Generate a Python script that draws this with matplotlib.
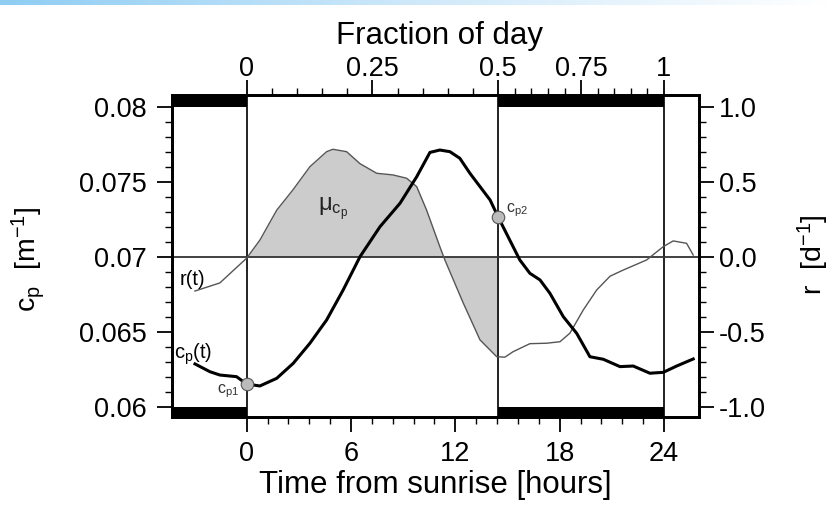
import matplotlib
matplotlib.use("Agg")
import matplotlib.pyplot as plt
import numpy as np
from matplotlib.colors import LinearSegmentedColormap

plt.rcParams['font.family'] = ['Liberation Sans', 'DejaVu Sans']
plt.rcParams['mathtext.fontset'] = 'custom'
plt.rcParams['mathtext.rm'] = 'Liberation Sans'
plt.rcParams['mathtext.it'] = 'Liberation Sans'
plt.rcParams['mathtext.default'] = 'regular'

# ---- data ----
r_t = [-2.97, -1.54, 0.0, 0.76, 1.73, 2.66, 3.64, 4.60, 4.96, 5.75, 6.52, 7.48, 8.41, 9.20,
       9.78, 10.35, 11.11, 11.40, 12.46, 13.42, 14.38, 14.85, 15.33, 16.29, 17.25, 18.02,
       18.59, 19.36, 20.13, 20.90, 21.66, 23.00, 23.96, 24.53, 25.30, 25.68]
r_val = [-0.229, -0.175, -0.01, 0.11, 0.31, 0.445, 0.60, 0.70, 0.716, 0.70, 0.62, 0.556, 0.545, 0.523,
         0.467, 0.31, 0.067, -0.022, -0.31, -0.555, -0.667, -0.67, -0.633, -0.58, -0.577, -0.567,
         -0.51, -0.355, -0.222, -0.13, -0.089, -0.022, 0.067, 0.105, 0.089, 0.011]

cp_t = [-2.97, -2.11, -1.54, -0.58, 0.0, 0.76, 1.73, 2.68, 3.64, 4.60, 5.55, 6.52, 7.67, 8.82,
        9.78, 10.54, 11.11, 11.69, 12.26, 12.84, 13.42, 14.0, 14.47, 15.13, 15.71, 16.29, 16.87,
        17.44, 18.21, 18.98, 19.74, 20.51, 21.47, 22.23, 23.19, 23.96, 24.73, 25.68]
cp_val = [0.06285, 0.06233, 0.06211, 0.0620, 0.06151, 0.06138, 0.06189, 0.06289, 0.06423, 0.06578,
          0.06778, 0.0700, 0.0720, 0.07356, 0.07533, 0.07695, 0.07711, 0.0770, 0.07656, 0.07556,
          0.07467, 0.07378, 0.07263, 0.07111, 0.06978, 0.06889, 0.06845, 0.06756, 0.0660, 0.06489,
          0.06333, 0.06316, 0.06267, 0.06271, 0.06223, 0.06229, 0.06271, 0.06318]

sunrise = 0.0
sunset = 14.47
next_sunrise = 24.0
cp1_point = (0.0, 0.06151)
cp2_point = (14.47, 0.07263)

x_ticks = [0, 6, 12, 18, 24]
left_ticks = [0.06, 0.065, 0.07, 0.075, 0.08]
left_labels = ['0.06', '0.065', '0.07', '0.075', '0.08']
right_ticks = [-1.0, -0.5, 0.0, 0.5, 1.0]
right_labels = ['-1.0', '-0.5', '0.0', '0.5', '1.0']
frac_ticks = [0, 0.25, 0.5, 0.75, 1]
frac_labels = ['0', '0.25', '0.5', '0.75', '1']

# ---- figure ----
fig = plt.figure(figsize=(8.31, 5.09), dpi=100)

# thin light-blue strip at the very top of the image
strip = fig.add_axes([0, 1 - 5 / 509, 1, 5 / 509])
grad = np.linspace(0, 1, 256)[None, :]
cm = LinearSegmentedColormap.from_list('strip', ['#8fcdf3', '#cfe9fa', '#ffffff'])
strip.imshow(grad, aspect='auto', cmap=cm, extent=[0, 1, 0, 1])
strip.axis('off')

ax = fig.add_axes([0.2066, 0.1807, 0.6349, 0.6327])
xmin, xmax = -4.31, 26.03
ymin, ymax = 0.05931, 0.08078
ax.set_xlim(xmin, xmax)
ax.set_ylim(ymin, ymax)

def cp_from_r(r):
    return 0.07 + np.asarray(r) / 100.0

def frac_to_hours(f):
    f = np.asarray(f, dtype=float)
    return np.where(f <= 0.5, f / 0.5 * sunset,
                    sunset + (f - 0.5) / 0.5 * (next_sunrise - sunset))

FS = 19.5
FL = 22.5
FY = 20.5
# night bars
for (a, b) in [(xmin, sunrise), (sunset, next_sunrise)]:
    ax.fill_between([a, b], 0.08, ymax, color='black', lw=0, zorder=3)
    ax.fill_between([a, b], ymin, 0.06, color='black', lw=0, zorder=3)

# vertical lines
for xv in [sunrise, sunset, next_sunrise]:
    ax.axvline(xv, color='#222222', lw=1.4, zorder=2)
ax.axhline(0.07, color='#333333', lw=1.3, zorder=2)

# shaded mu area
rt = np.array(r_t); rv = np.array(r_val)
mask = (rt >= sunrise - 1e-9) & (rt <= sunset + 1e-9)
ft = np.concatenate([[sunrise], rt[mask], [sunset]])
fv = np.concatenate([[np.interp(sunrise, rt, rv)], rv[mask], [np.interp(sunset, rt, rv)]])
ax.fill_between(ft, 0.07, cp_from_r(fv), color='#cccccc', lw=0, zorder=1)

ax.plot(r_t, cp_from_r(r_val), color='#555555', lw=1.0, zorder=4)
ax.plot(cp_t, cp_val, color='black', lw=2.2, zorder=5)

for (px, py) in [cp1_point, cp2_point]:
    ax.plot(px, py, 'o', ms=9, mfc='#bbbbbb', mec='#555555', mew=0.8, zorder=6)

ax.text(-3.84, 0.06811, 'r(t)', fontsize=14.5, ha='left', va='baseline', zorder=7)
ax.text(-4.18, 0.06318, '$c_p$(t)', fontsize=14.5, ha='left', va='baseline', zorder=7)
ax.text(-1.71, 0.06105, '$c_{p1}$', fontsize=11.5, ha='left', va='center', color='#333333', zorder=7)
ax.text(14.91, 0.07311, '$c_{p2}$', fontsize=11.5, ha='left', va='center', color='#333333', zorder=7)
ax.text(4.10, 0.07305, r'$\mu_{c_p}$', fontsize=17, ha='left', va='baseline', color='#222222', zorder=7)

# axes styling
for s in ax.spines.values():
    s.set_linewidth(1.8)
ax.set_xticks(x_ticks)
ax.set_xticks(np.arange(0, 24.01, 1.2), minor=True)
ax.set_yticks(left_ticks)
ax.set_yticklabels(left_labels)
ax.set_yticks(np.arange(0.06, 0.08001, 0.001), minor=True)
ax.tick_params(axis='x', which='major', direction='out', length=11, width=1.3, labelsize=FS, pad=6)
ax.tick_params(axis='y', which='major', direction='out', length=11, width=1.3, labelsize=FS, pad=7)
ax.tick_params(axis='both', which='minor', direction='out', length=5, width=1.0)
ax.set_xlabel('Time from sunrise [hours]', fontsize=FL)
ax.xaxis.set_label_coords((435 - 171.7) / 527.6, (417 - 470) / 322)
ax.set_ylabel(r'$c_p$  [m$^{-1}$]', fontsize=FY)
ax.yaxis.set_label_coords((47 - 171.7) / 527.6, (417 - 259) / 322)

# right axis
axr = ax.twinx()
axr.set_ylim((ymin - 0.07) * 100, (ymax - 0.07) * 100)
axr.set_yticks(right_ticks)
axr.set_yticklabels(right_labels)
axr.set_yticks(np.arange(-1.0, 1.001, 0.1), minor=True)
axr.tick_params(axis='y', which='major', direction='out', length=11, width=1.3, labelsize=FS, pad=3)
axr.tick_params(axis='y', which='minor', direction='out', length=5, width=1.0)
axr.set_ylabel(r'r  [d$^{-1}$]', fontsize=FY, rotation=90)
axr.yaxis.set_label_coords((796 - 171.7) / 527.6, (417 - 255) / 322)
for s in axr.spines.values():
    s.set_linewidth(1.8)

# top axis
axt = ax.twiny()
axt.set_xlim(xmin, xmax)
axt.set_xticks(frac_to_hours(frac_ticks))
axt.set_xticklabels(frac_labels)
axt.set_xticks(frac_to_hours(np.arange(0, 1.0001, 0.05)), minor=True)
axt.tick_params(axis='x', which='major', direction='out', length=11, width=1.3, labelsize=FS, pad=-1.5)
axt.tick_params(axis='x', which='minor', direction='out', length=5, width=1.0)
axt.set_xlabel('Fraction of day', fontsize=FL)
axt.xaxis.set_label_coords((440 - 171.7) / 527.6, (417 - 44) / 322)
for s in axt.spines.values():
    s.set_linewidth(1.8)

fig.savefig('out.png', dpi=100)
